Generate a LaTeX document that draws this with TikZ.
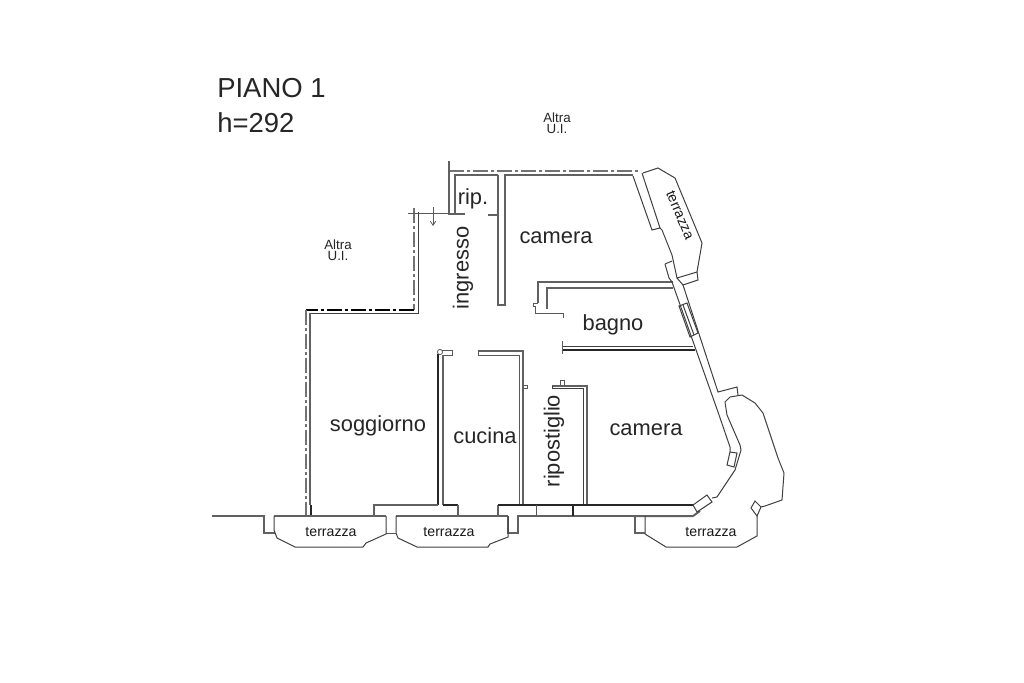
\documentclass[tikz,border=0pt]{standalone}
\usepackage{fontspec}
\usetikzlibrary{arrows.meta}
\setmainfont{Liberation Sans}
\tikzset{
  wall/.style={draw=black!62,line width=1.5pt},
  wallk/.style={draw=black!85,line width=1.3pt},
  thin/.style={draw=black!75,line width=.75pt},
  fine/.style={draw=black!65,line width=.6pt},
  bound/.style={draw=black!55,line width=1.1pt,dash pattern=on 11pt off 2.5pt on 2pt off 2.5pt},
  boundk/.style={draw=black,line width=1.5pt,dash pattern=on 11pt off 2.5pt on 2pt off 2.5pt},
  lab/.style={inner sep=0pt,text=black!85,font=\fontsize{16.4}{16.4}\selectfont},
  title/.style={inner sep=0pt,anchor=west,text=black!85,font=\fontsize{20.6}{20.6}\selectfont},
  small/.style={inner sep=0pt,text=black!85,align=center,font=\fontsize{10}{8}\selectfont},
  terr/.style={inner sep=0pt,text=black!90,font=\fontsize{10.6}{10.6}\selectfont},
}
\begin{document}
\begin{tikzpicture}[x=0.75pt,y=-0.75pt]
\useasboundingbox[fill=white] (0,0) rectangle (1024,682);
% titles
\node[title] (t1) at (217,88) {PIANO 1};
\node[title] (t2) at (217,123) {h=292};
\node[small] (u1) at (557,123) {Altra\\U.I.};
\node[small] (u2) at (338,250) {Altra\\U.I.};
% room labels
\node[lab] (r1) at (473,199) {rip.};
\node[lab] (r2) at (556,238) {camera};
\node[lab,rotate=90] (r3) at (463,268) {ingresso};
\node[lab] (r4) at (613,325) {bagno};
\node[lab] (r5) at (378,426) {soggiorno};
\node[lab] (r6) at (485,436) {cucina};
\node[lab,rotate=90] (r7) at (554,441) {ripostiglio};
\node[lab] (r8) at (646,430) {camera};
\node[terr] (r9) at (331,532) {terrazza};
\node[terr] (r10) at (449,532) {terrazza};
\node[terr] (r11) at (711,532) {terrazza};
\node[terr,rotate=-67] (r12) at (680,215) {terrazza};
% boundary
\draw[bound] (449,171) -- (641,171);
\draw[bound] (414,208) -- (414,310);
\draw[boundk] (414,310) -- (306,310);
\draw[bound] (306,310) -- (306,516);
% ripostiglio / ingresso
\draw[wall] (449,161) -- (449,198);
\draw[wall] (449,198) -- (449,214) -- (465,214);
\draw[wall] (455,214) -- (455,175) -- (498,175);
\draw[wall] (488,215) -- (498,215);
\draw[wall] (498,175) -- (498,305) -- (505,305) -- (505,175) -- (633,175);
% entry stairs
\draw[fine] (408,213) -- (449,213);
\draw[fine,-{Straight Barb[length=3pt,width=4pt]}] (433,207) -- (433,226);
\draw[thin] (418,212) -- (418,313) -- (309,313);
\draw[wall] (310,313) -- (310,505);
\draw[wallk] (311,505) -- (311,515);
% bathroom
\draw[wall] (673,282) -- (538,282) -- (538,303);
\draw[fine] (538,303) -- (533,303) -- (533,306) -- (535,306) -- (535,313) -- (563,313) -- (563,318);
\draw[wall] (673,287.5) -- (547,287.5) -- (547,309);
\draw[fine] (562,341) -- (562,354);
\draw[thin] (563,346.5) -- (693,346.5);
\draw[wallk] (563,350) -- (695,350);
% kitchen walls
\draw[fine] (440,352) circle (2.6);
\draw[fine] (442,350.5) -- (452,350.5) -- (452,355) -- (443,355);
\draw[wallk] (438,354) -- (438,505);
\draw[wall] (443,355) -- (443,505);
\draw[wall] (478,351) -- (523,351) -- (523,505);
\draw[fine] (478,351) -- (478,355) -- (519,355) -- (519,505);
\draw[fine] (523,385) -- (527,385) -- (527,388) -- (523,388);
% closet wall
\draw[wall] (552,385.5) -- (587,385.5) -- (587,505);
\draw[thin] (552,385.5) -- (552,388) -- (583,388) -- (583,505);
\draw[fine] (560,385) -- (560,380.5) -- (564,380.5) -- (564,385);
% south line
\draw[wall] (212,516) -- (264,516) -- (264,533) -- (275,533);
\draw[wall] (274,516) -- (386,516);
\draw[fine] (386,533) -- (396,533);
\draw[wall] (396,516) -- (508,516);
\draw[wall] (374,516) -- (374,505) -- (438,505);
\draw[wallk] (443,505) -- (458,505);
\draw[wall] (458,505) -- (458,516);
\draw[wall] (498,516) -- (498,505);
\draw[wallk] (498,505) -- (693,505);
\draw[wall] (508,516) -- (508,533) -- (518,533) -- (518,516) -- (635,516) -- (635,533) -- (645,533);
\draw[wall] (635,516) -- (693,516) -- (700,511);
\draw[fine] (536,505) -- (536,516);
\draw[wallk] (573,505) -- (573,516);
% south terraces
\draw[thin] (274,516) -- (274,530) -- (277,538) -- (295,547) -- (363,547) -- (366,543) -- (386,534) -- (386,516);
\draw[thin] (396,516) -- (396,533) -- (398,538) -- (417,547) -- (488,547) -- (490,544) -- (508,537) -- (508,516);
\draw[thin] (645,516) -- (645,534) -- (666,547) -- (737,547) -- (757,536) -- (757,516);
% big corner terrace
\draw[thin] (693,505) -- (707,495) -- (712,502) -- (697,512) -- cycle;
\draw[thin] (712,498) -- (717,497) -- (735,470);
\draw[thin] (730,452) -- (737,453) -- (734,467) -- (727,465) -- cycle;
\draw[thin] (757,516) -- (751,508) -- (755,501) -- (761,507) -- cycle;
\draw[thin] (761,507) -- (765,506) -- (782,500) -- (784,473) -- (778,458) -- (763,413) -- (755,403) -- (742,395) -- (730,397) -- (725,402) -- (727,415) -- (740,445) -- (741,450) -- (735,470);
% east wall
\draw[thin] (672,282) -- (718,412) -- (730,447) -- (730,452);
\draw[thin] (683,285) -- (718,392) -- (737,387) -- (738,395);
\draw[thin] (679,306) -- (687,303) -- (698,333) -- (690,337) -- cycle;
\draw[thin] (683,305) -- (694,335);
% north-east terrace
\draw[thin] (633,176) -- (652,230) -- (660,228) -- (642,173);
\draw[thin] (643,173) -- (658,168) -- (675,178) -- (702,243) -- (697,272) -- (677,278) -- (672,255) -- (662,230) -- (660,228);
\draw[thin] (665,264) -- (672,261);
\draw[thin] (665,264) -- (669,278) -- (672,282);
\draw[thin] (697,272) -- (698,280) -- (683,285) -- (677,278);
\end{tikzpicture}
\end{document}
